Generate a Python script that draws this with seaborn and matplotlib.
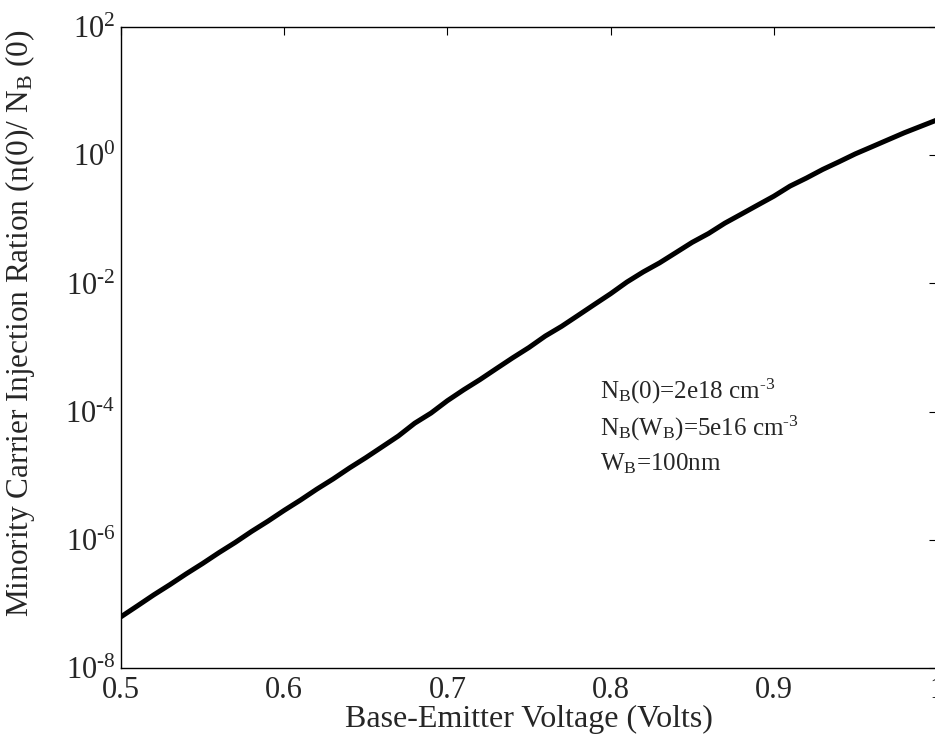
import matplotlib
matplotlib.use("Agg")
import matplotlib.pyplot as plt
import matplotlib.ticker as mticker
import numpy as np
import pandas as pd
import seaborn as sns

# Base-emitter bias sweep (V) and minority-carrier injection ratio n(0)/N_B(0)
vbe = [0.50, 0.51, 0.52, 0.53, 0.54, 0.55, 0.56, 0.57, 0.58, 0.59,
       0.60, 0.61, 0.62, 0.63, 0.64, 0.65, 0.66, 0.67, 0.68, 0.69,
       0.70, 0.71, 0.72, 0.73, 0.74, 0.75, 0.76, 0.77, 0.78, 0.79,
       0.80, 0.81, 0.82, 0.83, 0.84, 0.85, 0.86, 0.87, 0.88, 0.89,
       0.90, 0.91, 0.92, 0.93, 0.94, 0.95, 0.96, 0.97, 0.98, 0.99, 1.00]
injection_ratio = [6.3e-8, 9.3e-8, 1.38e-7, 2.0e-7, 2.95e-7, 4.27e-7, 6.3e-7, 9.1e-7, 1.35e-6, 1.95e-6,
                   2.88e-6, 4.17e-6, 6.17e-6, 8.9e-6, 1.32e-5, 1.91e-5, 2.82e-5, 4.17e-5, 6.6e-5, 9.5e-5,
                   1.48e-4, 2.19e-4, 3.16e-4, 4.68e-4, 6.9e-4, 1.0e-3, 1.51e-3, 2.14e-3, 3.16e-3, 4.68e-3,
                   6.9e-3, 1.05e-2, 1.51e-2, 2.09e-2, 3.02e-2, 4.37e-2, 6.0e-2, 8.7e-2, 0.12, 0.166,
                   0.229, 0.33, 0.44, 0.60, 0.79, 1.05, 1.35, 1.74, 2.24, 2.82, 3.55]

x_ticks = [0.5, 0.6, 0.7, 0.8, 0.9, 1.0]
x_tick_labels = ["0.5", "0.6", "0.7", "0.8", "0.9", "1"]
y_ticks = [1e-8, 1e-6, 1e-4, 1e-2, 1e0, 1e2]
y_tick_labels = ["$\\mathregular{10^{\u20108}}$", "$\\mathregular{10^{\u20106}}$",
                 "$\\mathregular{10^{\u20104}}$", "$\\mathregular{10^{\u20102}}$",
                 "$\\mathregular{10^{0}}$", "$\\mathregular{10^{2}}$"]

annotation_lines = ["N$_\\mathregular{B}$(0)=2e18 cm$^\\mathregular{\u20103}$",
                    "N$_\\mathregular{B}$(W$_\\mathregular{B}$)=5e16 cm$^\\mathregular{\u20103}$",
                    "W$_\\mathregular{B}$=100nm"]

df = pd.DataFrame({"vbe": vbe, "ratio": injection_ratio})

sns.set_style("white")
plt.rcParams["font.family"] = ["Liberation Serif", "DejaVu Serif"]
plt.rcParams["mathtext.fontset"] = "custom"
plt.rcParams["mathtext.rm"] = "Liberation Serif"
plt.rcParams["mathtext.it"] = "Liberation Serif:italic"
plt.rcParams["mathtext.bf"] = "Liberation Serif:bold"

fig = plt.figure(figsize=(9.35, 7.42), dpi=100)
ax = fig.add_axes([0.1294, 0.0997, 0.8727, 0.8639])

sns.lineplot(data=df, x="vbe", y="ratio", ax=ax, color="black", linewidth=3.6,
             legend=False)

ax.set_yscale("log")
ax.set_xlim(0.5, 1.0)
ax.set_ylim(1e-8, 1e2)

ax.xaxis.set_major_locator(mticker.FixedLocator(x_ticks))
ax.set_xticklabels(x_tick_labels)
ax.yaxis.set_major_locator(mticker.FixedLocator(y_ticks))
ax.yaxis.set_minor_locator(mticker.NullLocator())
ax.set_yticklabels(y_tick_labels)

ax.tick_params(axis="both", which="major", direction="in", length=6, width=0.8,
               top=True, right=True, labelsize=22, color="black")
ax.tick_params(axis="x", pad=6)
ax.tick_params(axis="y", pad=4)

for spine in ax.spines.values():
    spine.set_visible(True)
    spine.set_color("black")
    spine.set_linewidth(1.0)

ax.set_xlabel("Base-Emitter Voltage (Volts)", fontsize=23)
ax.set_ylabel("Minority Carrier Injection Ration (n(0)/ N$_\\mathregular{B}$ (0)",
              fontsize=22.5)
ax.xaxis.set_label_coords(0.5, -0.058)
ax.yaxis.set_label_coords(-0.103, 0.538)

ax.text(0.587, 0.455, "\n".join(annotation_lines), transform=ax.transAxes,
        fontsize=18, va="top", ha="left", linespacing=1.4)

ax.set_facecolor("white")
fig.patch.set_facecolor("white")
fig.savefig("out.png", dpi=100, facecolor="white")
